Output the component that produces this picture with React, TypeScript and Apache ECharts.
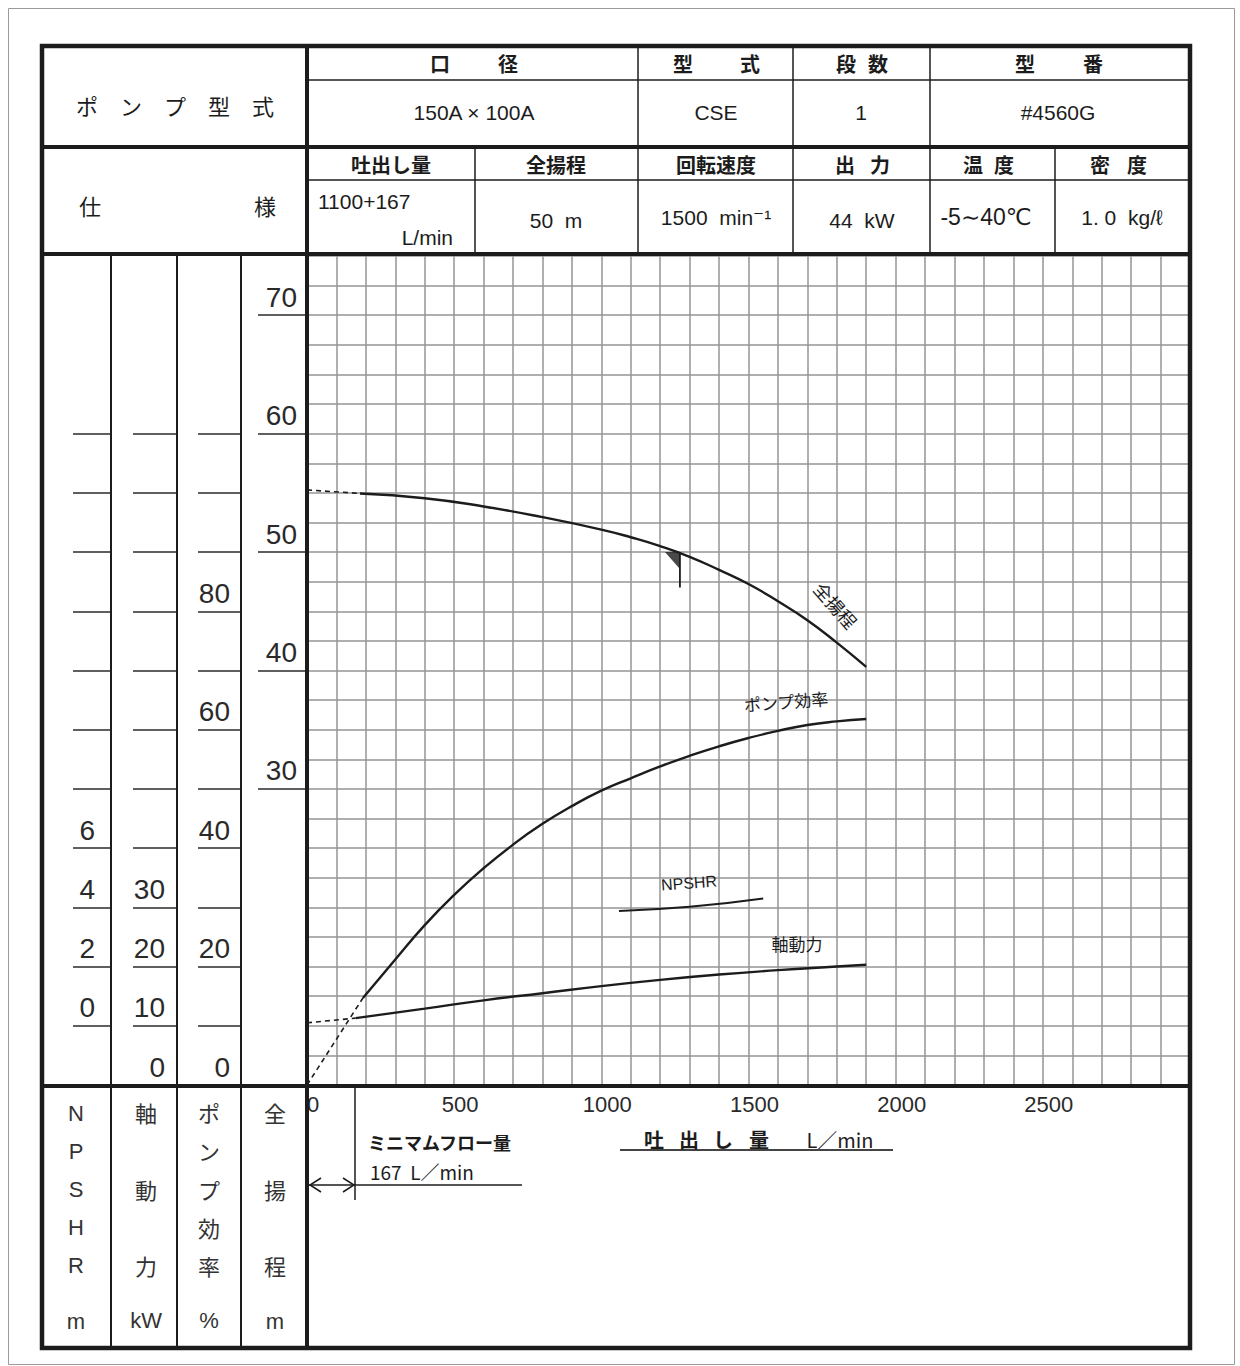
import React, { useEffect, useRef } from "react";
import * as echarts from "echarts";

// ---- data ----
const flowHead = [180, 400, 600, 800, 1000, 1100, 1200, 1300, 1400, 1500, 1600, 1700, 1800, 1900];
const headM = [54.95, 54.55, 53.85, 52.95, 51.9, 51.25, 50.5, 49.6, 48.5, 47.3, 45.85, 44.25, 42.35, 40.3];
const flowHeadDash = [0, 180];
const headDash = [55.25, 54.95];

const flowEff = [190, 300, 400, 500, 600, 700, 800, 900, 1000, 1100, 1200, 1300, 1400, 1500, 1600, 1700, 1800, 1900];
const effPct = [14.7, 21.2, 27.0, 32.1, 36.6, 40.6, 44.1, 47.1, 49.7, 51.8, 53.8, 55.6, 57.2, 58.6, 59.8, 60.8, 61.4, 61.8];
const flowEffDash = [0, 190];
const effDash = [0, 14.7];

const flowPow = [165, 400, 600, 800, 1000, 1200, 1400, 1600, 1800, 1900];
const powKW = [11.3, 12.9, 14.3, 15.5, 16.7, 17.75, 18.65, 19.4, 20.0, 20.3];
const flowPowDash = [0, 165];
const powDash = [10.5, 11.3];

const flowNpsh = [1060, 1300, 1550];
const npshM = [3.88, 4.02, 4.3];

const ratedFlow = [1267, 1267];
const ratedHead = [50, 47];

// ---- tick labels ----
const xLabelValues = [0, 500, 1000, 1500, 2000, 2500];
const headTicks = [30, 40, 50, 60, 70];
const effTicks = [10, 20, 30, 40, 50, 60, 70, 80, 90, 100, 110];
const effLabels = [0, 20, 40, 60, 80];
const kwTicks = [10, 20, 30, 40, 50, 60, 70, 80, 90, 100, 110];
const kwLabels = [0, 10, 20, 30];
const npshTicks = [0, 2, 4, 6, 8, 10, 12, 14, 16, 18, 20];
const npshLabels = [0, 2, 4, 6];

const JP = '"Noto Sans CJK JP", "Liberation Sans", sans-serif';
const NUM = '"Liberation Sans", "DejaVu Sans", sans-serif';
const INK = "#1c1c1c";

const pts = (xs: number[], ys: number[]) => xs.map((x, i) => [x, ys[i]]);

function txt(text: string, x: number, y: number, size: number, opts: any = {}) {
  const align = opts.align || "center";
  return {
    type: "text",
    x,
    y,
    rotation: opts.rotation || 0,
    z: 60,
    style: {
      text,
      fontSize: size,
      fontFamily: opts.font || JP,
      fontWeight: opts.weight || "normal",
      fill: opts.color || INK,
      align,
      textAlign: align,
      verticalAlign: "middle",
      textVerticalAlign: "middle",
    },
  };
}

function ln(x1: number, y1: number, x2: number, y2: number, w: number, color = INK) {
  return {
    type: "line",
    z: 55,
    shape: { x1, y1, x2, y2 },
    style: { stroke: color, lineWidth: w },
  };
}

function buildGraphics() {
  const g: any[] = [];
  // page border
  g.push({
    type: "rect",
    z: 50,
    shape: { x: 8.5, y: 8.5, width: 1226, height: 1356 },
    style: { fill: "none", stroke: "#9a9a9a", lineWidth: 1 },
  });
  // outer frame
  g.push({
    type: "rect",
    z: 56,
    shape: { x: 42, y: 46, width: 1148, height: 1302 },
    style: { fill: "none", stroke: INK, lineWidth: 4.5 },
  });
  // thick dividers
  g.push(ln(42, 147, 1190, 147, 4));
  g.push(ln(42, 254, 1190, 254, 4));
  g.push(ln(42, 1086, 1190, 1086, 4));
  g.push(ln(307, 46, 307, 1348, 4));
  // header thin lines
  g.push(ln(307, 80, 1190, 80, 1.5));
  g.push(ln(307, 180, 1190, 180, 1.5));
  [638, 793, 930].forEach((x) => g.push(ln(x, 46, x, 147, 1.5)));
  [475, 638, 793, 930, 1055].forEach((x) => g.push(ln(x, 147, x, 254, 1.5)));
  // left panel column dividers
  [111, 177, 241].forEach((x) => g.push(ln(x, 254, x, 1348, 2)));

  // header texts
  g.push(txt("ポ　ン　プ　型　式", 175, 105, 22));
  g.push(txt("仕", 90, 205, 22));
  g.push(txt("様", 265, 205, 22));
  const hb = { weight: "bold" };
  g.push(txt("口", 440, 63, 20, hb));
  g.push(txt("径", 508, 63, 20, hb));
  g.push(txt("型", 683, 63, 20, hb));
  g.push(txt("式", 750, 63, 20, hb));
  g.push(txt("段", 846, 63, 20, hb));
  g.push(txt("数", 878, 63, 20, hb));
  g.push(txt("型", 1025, 63, 20, hb));
  g.push(txt("番", 1093, 63, 20, hb));
  g.push(txt("150A × 100A", 474, 112, 21, { font: NUM }));
  g.push(txt("CSE", 716, 112, 21, { font: NUM }));
  g.push(txt("1", 861, 112, 21, { font: NUM }));
  g.push(txt("#4560G", 1058, 112, 21, { font: NUM }));

  g.push(txt("吐出し量", 391, 164, 20, hb));
  g.push(txt("全揚程", 556, 164, 20, hb));
  g.push(txt("回転速度", 716, 164, 20, hb));
  g.push(txt("出", 845, 164, 20, hb));
  g.push(txt("力", 880, 164, 20, hb));
  g.push(txt("温", 973, 164, 20, hb));
  g.push(txt("度", 1004, 164, 20, hb));
  g.push(txt("密", 1100, 164, 20, hb));
  g.push(txt("度", 1137, 164, 20, hb));

  g.push(txt("1100+167", 318, 201, 21, { font: NUM, align: "left" }));
  g.push(txt("L/min", 453, 237, 21, { font: NUM, align: "right" }));
  g.push(txt("50  m", 556, 220, 21, { font: NUM }));
  g.push(txt("1500  min⁻¹", 716, 217, 21, { font: NUM }));
  g.push(txt("44  kW", 862, 220, 21, { font: NUM }));
  g.push(txt("-5∼40℃", 986, 217, 23, { font: NUM }));
  g.push(txt("1. 0  kg/ℓ", 1122, 217, 21, { font: NUM }));

  // bottom-left vertical captions
  const cols: [number, [string, number, boolean][]][] = [
    [76, [["N", 1113, true], ["P", 1151, true], ["S", 1189, true], ["H", 1227, true], ["R", 1265, true], ["m", 1321, true]]],
    [146, [["軸", 1112, false], ["動", 1189, false], ["力", 1265, false], ["kW", 1320, true]]],
    [209, [["ポ", 1112, false], ["ン", 1150, false], ["プ", 1189, false], ["効", 1227, false], ["率", 1265, false], ["%", 1320, true]]],
    [275, [["全", 1112, false], ["揚", 1189, false], ["程", 1265, false], ["m", 1321, true]]],
  ];
  cols.forEach(([cx, items]) =>
    items.forEach(([t, y, num]) => g.push(txt(t, cx, y, 22, { font: num ? NUM : JP, color: "#333" })))
  );

  // minimum flow annotation
  g.push(ln(355, 1088, 355, 1200, 1.5));
  g.push(ln(309, 1185, 522, 1185, 1.5));
  g.push({ type: "polyline", z: 55, shape: { points: [[321, 1178], [310, 1185], [321, 1192]] }, style: { stroke: INK, lineWidth: 1.5, fill: "none" } });
  g.push({ type: "polyline", z: 55, shape: { points: [[343, 1178], [354, 1185], [343, 1192]] }, style: { stroke: INK, lineWidth: 1.5, fill: "none" } });
  g.push(txt("ミニマムフロー量", 368, 1142, 18, { align: "left", weight: "bold" }));
  g.push(txt("167  L／min", 370, 1171, 19, { align: "left" }));

  // x axis title
  g.push(txt("吐", 654, 1139, 20, hb));
  g.push(txt("出", 689, 1139, 20, hb));
  g.push(txt("し", 723, 1139, 20, hb));
  g.push(txt("量", 759, 1139, 20, hb));
  g.push(txt("L／min", 840, 1139, 20));
  g.push(ln(620, 1150, 893, 1150, 2, "#444"));

  // curve labels
  g.push(txt("全揚程", 836, 605, 18, { rotation: -0.85 }));
  g.push(txt("ポンプ効率", 786, 701, 17, { rotation: 0.08 }));
  g.push(txt("NPSHR", 689, 883, 16, { rotation: 0.07, font: NUM }));
  g.push(txt("軸動力", 797, 943, 17));
  return g;
}

function leftAxis(min: number, max: number, offset: number, tickLen: number, ticks: number[], labels: number[], margin: number) {
  return {
    type: "value",
    position: "left",
    min,
    max,
    offset,
    axisLine: { show: false },
    axisTick: { show: true, inside: false, length: tickLen, customValues: ticks, lineStyle: { color: "#2a2a2a", width: 1.5 } },
    axisLabel: {
      show: true,
      customValues: labels,
      margin,
      align: "right",
      verticalAlign: "bottom",
      padding: [0, 0, 4, 0],
      fontSize: 28,
      fontFamily: NUM,
      color: "#2a2a2a",
    },
    splitLine: { show: false },
  };
}

export default function App() {
  const ref = useRef<HTMLDivElement>(null);
  useEffect(() => {
    if (!ref.current) return;
    const chart = echarts.init(ref.current, undefined, { renderer: "svg", width: 1240, height: 1366 });
    const lineBase = { type: "line", symbol: "none", xAxisIndex: 0, silent: true };
    const solid = { color: INK, width: 2.4 };
    const dashed = { color: INK, width: 1.6, type: [5, 4] };
    const option: any = {
      animation: false,
      backgroundColor: "#ffffff",
      grid: { left: 307, top: 256, width: 883, height: 829, containLabel: false, outerBoundsMode: "none" },
      xAxis: [
        {
          type: "value",
          min: 0,
          max: 3000,
          interval: 100,
          axisLine: { show: false },
          axisTick: { show: false },
          axisLabel: {
            formatter: (v: number) => (xLabelValues.indexOf(v) >= 0 ? String(v) : ""),
            margin: 8,
            fontSize: 22,
            fontFamily: NUM,
            color: "#2a2a2a",
            padding: [0, 0, 0, 12],
          },
          splitLine: { show: true, lineStyle: { color: "#959595", width: 1.5 } },
        },
      ],
      yAxis: [
        leftAxis(5, 75, 0, 49, headTicks, headTicks, 10),
        leftAxis(0, 140, 66, 43, effTicks, effLabels, 11),
        leftAxis(0, 140, 130, 44, kwTicks, kwLabels, 12),
        leftAxis(-2, 26, 196, 38, npshTicks, npshLabels, 16),
        {
          type: "value",
          min: 0,
          max: 28,
          interval: 1,
          position: "right",
          axisLine: { show: false },
          axisTick: { show: false },
          axisLabel: { show: false },
          splitLine: { show: true, lineStyle: { color: "#959595", width: 1.5 } },
        },
      ],
      series: [
        { ...lineBase, name: "全揚程", yAxisIndex: 0, smooth: 0.5, data: pts(flowHead, headM), lineStyle: solid },
        { ...lineBase, name: "全揚程(破線)", yAxisIndex: 0, data: pts(flowHeadDash, headDash), lineStyle: dashed },
        { ...lineBase, name: "ポンプ効率", yAxisIndex: 1, smooth: 0.5, data: pts(flowEff, effPct), lineStyle: solid },
        { ...lineBase, name: "ポンプ効率(破線)", yAxisIndex: 1, data: pts(flowEffDash, effDash), lineStyle: dashed },
        { ...lineBase, name: "軸動力", yAxisIndex: 2, smooth: 0.5, data: pts(flowPow, powKW), lineStyle: solid },
        { ...lineBase, name: "軸動力(破線)", yAxisIndex: 2, data: pts(flowPowDash, powDash), lineStyle: dashed },
        { ...lineBase, name: "NPSHR", yAxisIndex: 3, smooth: 0.5, data: pts(flowNpsh, npshM), lineStyle: { color: INK, width: 2 } },
        { ...lineBase, name: "規定点", yAxisIndex: 0, data: pts(ratedFlow, ratedHead), lineStyle: { color: INK, width: 1.8 } },
        {
          type: "scatter",
          name: "規定点マーク",
          xAxisIndex: 0,
          yAxisIndex: 0,
          silent: true,
          symbol: "path://M0,0L10,0L10,12Z",
          symbolSize: [15, 17],
          symbolKeepAspect: false,
          symbolOffset: ["-50%", "50%"],
          itemStyle: { color: INK },
          data: [[ratedFlow[0], ratedHead[0]]],
        },
      ],
      graphic: { elements: buildGraphics() },
    };
    chart.setOption(option);
    return () => chart.dispose();
  }, []);
  return (
    <div
      ref={ref}
      style={{ position: "absolute", left: 0, top: 0, width: 1240, height: 1366, background: "#fff" }}
    />
  );
}
